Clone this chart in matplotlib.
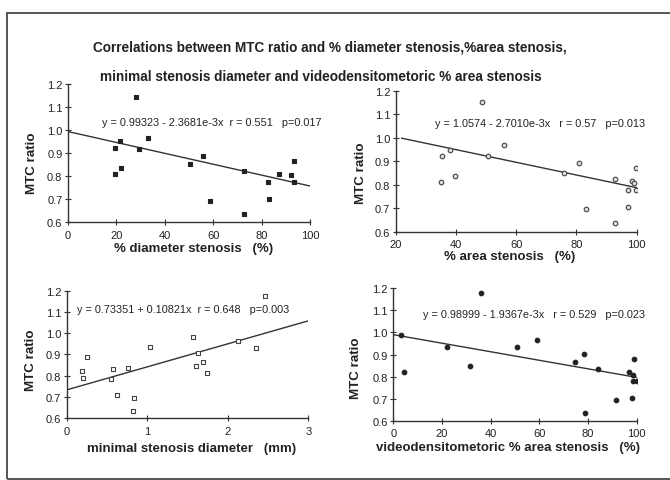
import numpy as np
import matplotlib
matplotlib.use("Agg")
import matplotlib.pyplot as plt
from matplotlib.patches import Rectangle

plt.rcParams['font.family'] = ['Liberation Sans', 'DejaVu Sans']

# panel 1: % diameter stenosis
diam_x = [28.3, 19.3, 21.4, 19.3, 21.8, 29.4, 33.2, 50.6, 55.9, 58.6,
          72.8, 72.7, 82.5, 83.2, 87.3, 92.1, 93.5, 93.5]
diam_y = [1.145, 0.921, 0.950, 0.810, 0.834, 0.918, 0.966, 0.852, 0.886, 0.691,
          0.821, 0.635, 0.776, 0.701, 0.810, 0.804, 0.866, 0.774]

# panel 2: % area stenosis
area_x = [48.6, 35.3, 38.1, 35.1, 39.7, 50.5, 56.0, 75.8, 80.8, 83.2,
          92.9, 92.9, 97.1, 97.0, 99.7, 98.4, 99.2, 99.8]
area_y = [1.150, 0.921, 0.949, 0.810, 0.838, 0.921, 0.970, 0.850, 0.891, 0.695,
          0.824, 0.637, 0.704, 0.777, 0.870, 0.816, 0.806, 0.777]

# panel 3: minimal stenosis diameter (mm)
msd_x = [2.46, 0.257, 0.186, 0.199, 0.571, 0.550, 0.625, 0.765, 0.840, 0.827,
         1.034, 1.572, 1.605, 1.630, 1.696, 1.746, 2.122, 2.35]
msd_y = [1.177, 0.887, 0.821, 0.788, 0.832, 0.785, 0.710, 0.835, 0.696, 0.633,
         0.934, 0.984, 0.844, 0.906, 0.863, 0.812, 0.965, 0.929]

# panel 4: videodensitometoric % area stenosis
vd_x = [35.9, 3.0, 4.4, 22.0, 31.7, 51.0, 59.1, 74.8, 78.4, 78.6,
        84.0, 91.5, 97.0, 98.4, 98.9, 97.9, 98.4, 100.0]
vd_y = [1.179, 0.988, 0.819, 0.935, 0.846, 0.934, 0.966, 0.864, 0.902, 0.635,
        0.834, 0.694, 0.819, 0.809, 0.880, 0.701, 0.778, 0.778]

intercepts = [0.99323, 1.0574, 0.73351, 0.98999]
slopes = [-2.3681e-3, -2.7010e-3, 0.10821, -1.9367e-3]
fit_range = [(0, 100), (22, 100), (0, 3), (0, 100)]
equations = ["y = 0.99323 - 2.3681e-3x  r = 0.551   p=0.017",
             "y = 1.0574 - 2.7010e-3x   r = 0.57   p=0.013",
             "y = 0.73351 + 0.10821x  r = 0.648   p=0.003",
             "y = 0.98999 - 1.9367e-3x   r = 0.529   p=0.023"]
xlabels = ["% diameter stenosis   (%)", "% area stenosis   (%)",
           "minimal stenosis diameter   (mm)", "videodensitometoric % area stenosis   (%)"]
xlims = [(0, 100), (20, 100), (0, 3), (0, 100)]
xticks = [[0, 20, 40, 60, 80, 100], [20, 40, 60, 80, 100], [0, 1, 2, 3], [0, 20, 40, 60, 80, 100]]
yticks = [0.6, 0.7, 0.8, 0.9, 1.0, 1.1, 1.2]

ink = '#222222'

def main():
    fig = plt.figure(figsize=(6.7, 4.81), dpi=100)
    fig.patches.append(Rectangle((0.011, 0.003), 0.995, 0.968, transform=fig.transFigure,
                                 fill=False, edgecolor='#555555', linewidth=1.4))

    fig.text(0.493, 1 - 47 / 481, "Correlations between MTC ratio and % diameter stenosis,%area stenosis,",
             ha='center', va='center', fontsize=9.8, fontweight='bold', color=ink)
    fig.text(0.479, 1 - 77 / 481, "minimal stenosis diameter and videodensitometoric % area stenosis",
             ha='center', va='center', fontsize=9.8, fontweight='bold', color=ink)

    rects = [[0.1015, 0.5364, 0.3612, 0.2869],
             [0.5906, 0.5162, 0.3597, 0.2931],
             [0.0995, 0.1283, 0.3606, 0.2653],
             [0.587, 0.1233, 0.3633, 0.2752]]
    data = [(diam_x, diam_y), (area_x, area_y), (msd_x, msd_y), (vd_x, vd_y)]
    markers = [dict(marker='s', facecolor=ink, edgecolor=ink),
               dict(marker='o', facecolor='#dddddd', edgecolor='#444444'),
               dict(marker='s', facecolor='white', edgecolor='#444444'),
               dict(marker='o', facecolor=ink, edgecolor=ink)]
    text_pos = [(0.14, 0.725), (0.163, 0.771), (0.043, 0.857), (0.122, 0.806)]
    ylab_pos = [(-0.124, 0.435), (-0.119, 0.423), (-0.123, 0.465), (-0.129, 0.406)]
    xlab_pos = [(0.52, -0.148), (0.474, -0.133), (0.517, -0.185), (0.47, -0.155)]

    for i in range(4):
        ax = fig.add_axes(rects[i])
        xs, ys = data[i]
        ax.scatter(xs, ys, s=11, linewidths=0.8, zorder=3, **markers[i])
        fx = np.array(fit_range[i], dtype=float)
        ax.plot(fx, intercepts[i] + slopes[i] * fx, color='#333333', linewidth=1.0)
        ax.set_xlim(*xlims[i])
        ax.set_ylim(0.6, 1.2)
        ax.set_xticks(xticks[i])
        ax.set_yticks(yticks)
        ax.set_yticklabels(["%.1f" % v for v in yticks])
        for s in ['top', 'right']:
            ax.spines[s].set_visible(False)
        for s in ['left', 'bottom']:
            ax.spines[s].set_color('#333333')
            ax.spines[s].set_linewidth(1.0)
        ax.tick_params(direction='inout', length=4, width=0.8, colors='#333333',
                       labelsize=8, labelcolor=ink)
        ax.tick_params(axis='x', pad=3.5)
        ax.tick_params(axis='y', pad=2)
        ax.patch.set_visible(False)
        ax.text(text_pos[i][0], text_pos[i][1], equations[i], transform=ax.transAxes,
                ha='left', va='center', fontsize=7.8, color=ink)
        ax.set_ylabel("MTC ratio", fontsize=9.6, fontweight='bold', color=ink)
        ax.yaxis.set_label_coords(*ylab_pos[i])
        ax.set_xlabel(xlabels[i], fontsize=9.5, fontweight='bold', color=ink)
        ax.xaxis.set_label_coords(*xlab_pos[i])

    fig.savefig("out.png", dpi=100)


if __name__ == "__main__":
    main()
